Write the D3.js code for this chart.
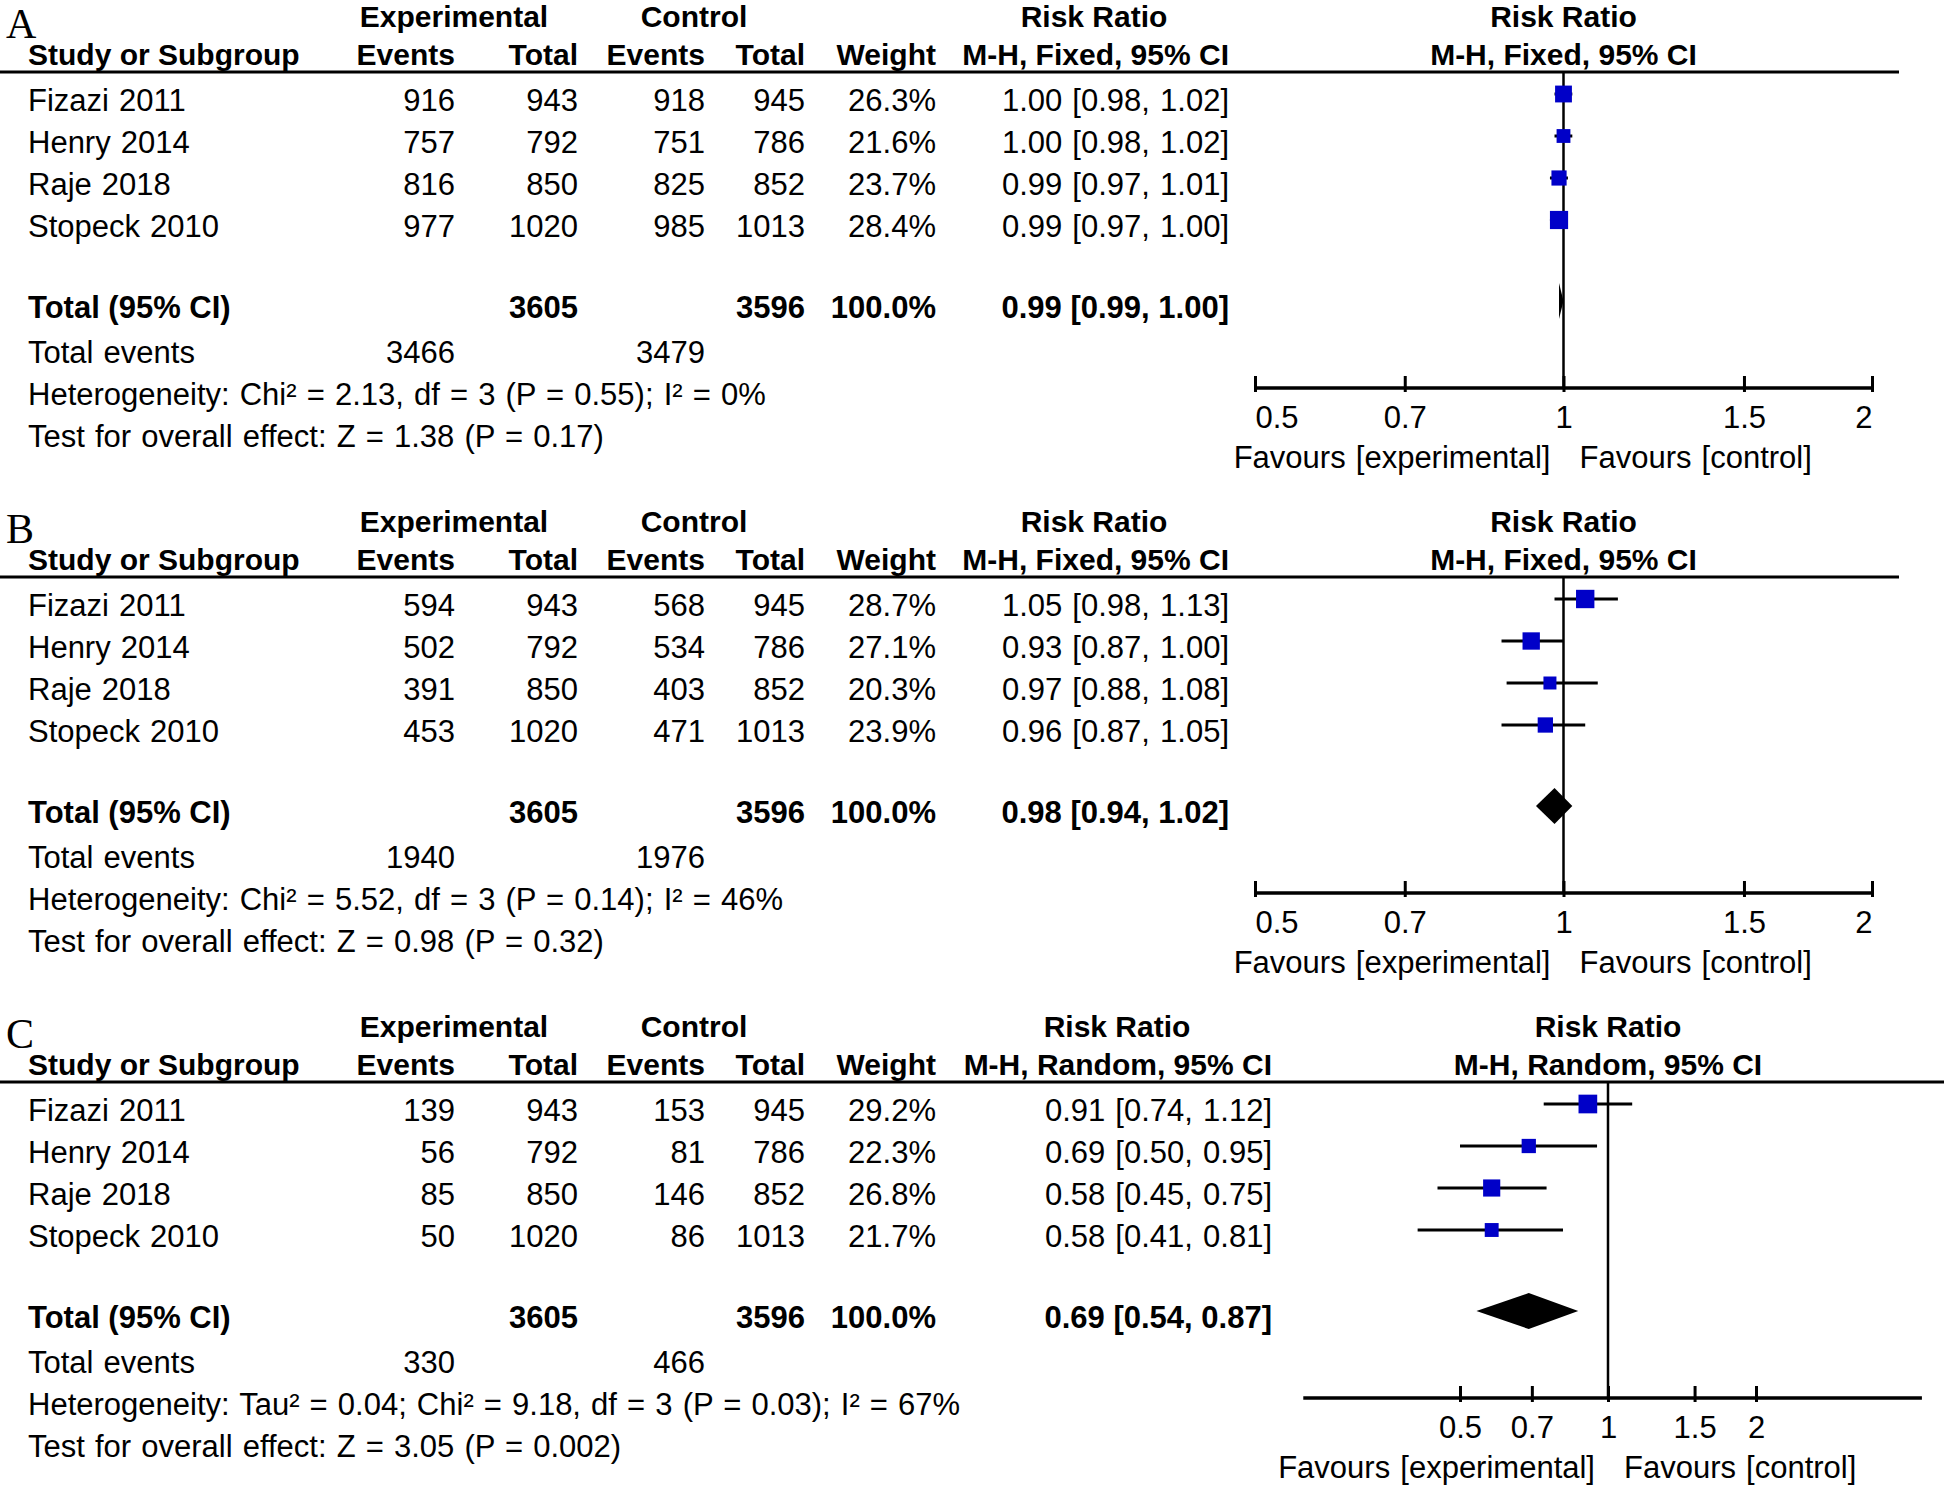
<!DOCTYPE html>
<html>
<head>
<meta charset="utf-8">
<script src="https://cdn.jsdelivr.net/npm/d3@7"></script>
<style>
  body { margin: 0; background: #fff; }
  svg text { font-family: "Liberation Sans", Arial, sans-serif; font-size: 31px; word-spacing: 1.5px; fill: #000; }
  svg text.b { font-size: 30px; font-weight: bold; word-spacing: 0; }
</style>
</head>
<body>
<div id="chart"></div>
<script>
// shared study info
var studies = ["Fizazi 2011", "Henry 2014", "Raje 2018", "Stopeck 2010"];
var expTotal = [943, 792, 850, 1020];
var ctrlTotal = [945, 786, 852, 1013];
var tickValues = [0.5, 0.7, 1, 1.5, 2];

// A - fixed
var aExpEvents = [916, 757, 816, 977];
var aCtrlEvents = [918, 751, 825, 985];
var aWeight = [26.3, 21.6, 23.7, 28.4];
var aRR = [1.00, 1.00, 0.99, 0.99];
var aLow = [0.98, 0.98, 0.97, 0.97];
var aHigh = [1.02, 1.02, 1.01, 1.00];
var aTotal = [0.99, 0.99, 1.00];
var aEvents = [3466, 3479];
var aHet = "Heterogeneity: Chi² = 2.13, df = 3 (P = 0.55); I² = 0%";
var aTest = "Test for overall effect: Z = 1.38 (P = 0.17)";

// B - fixed
var bExpEvents = [594, 502, 391, 453];
var bCtrlEvents = [568, 534, 403, 471];
var bWeight = [28.7, 27.1, 20.3, 23.9];
var bRR = [1.05, 0.93, 0.97, 0.96];
var bLow = [0.98, 0.87, 0.88, 0.87];
var bHigh = [1.13, 1.00, 1.08, 1.05];
var bTotal = [0.98, 0.94, 1.02];
var bEvents = [1940, 1976];
var bHet = "Heterogeneity: Chi² = 5.52, df = 3 (P = 0.14); I² = 46%";
var bTest = "Test for overall effect: Z = 0.98 (P = 0.32)";

// C - random
var cExpEvents = [139, 56, 85, 50];
var cCtrlEvents = [153, 81, 146, 86];
var cWeight = [29.2, 22.3, 26.8, 21.7];
var cRR = [0.91, 0.69, 0.58, 0.58];
var cLow = [0.74, 0.50, 0.45, 0.41];
var cHigh = [1.12, 0.95, 0.75, 0.81];
var cTotal = [0.69, 0.54, 0.87];
var cEvents = [330, 466];
var cHet = "Heterogeneity: Tau² = 0.04; Chi² = 9.18, df = 3 (P = 0.03); I² = 67%";
var cTest = "Test for overall effect: Z = 3.05 (P = 0.002)";

var width = 1946;
var height = 1487;
var fmt2 = d3.format(".2f");
var fmtW = d3.format(".1f");

var svg = d3.select("#chart").append("svg")
    .attr("width", width)
    .attr("height", height);

// row position (marker centre); text baseline sits a bit lower
var yRow = d3.scaleLinear().domain([0, 1]).range([94, 136]);
var textDy = 17;
var boxSize = d3.scaleLinear().domain([0, 10]).range([0, 6.4]);

drawPanel(0, "A", "M-H, Fixed, 95% CI",
    {exp: aExpEvents, ctrl: aCtrlEvents, w: aWeight, rr: aRR, lo: aLow, hi: aHigh,
     total: aTotal, events: aEvents, het: aHet, test: aTest},
    {rrRight: 1229, rrHead: 1094, range: [1255, 1872], extent: [0.5, 2], lineEnd: 1899, clampLabels: true});

drawPanel(505, "B", "M-H, Fixed, 95% CI",
    {exp: bExpEvents, ctrl: bCtrlEvents, w: bWeight, rr: bRR, lo: bLow, hi: bHigh,
     total: bTotal, events: bEvents, het: bHet, test: bTest},
    {rrRight: 1229, rrHead: 1094, range: [1255, 1872], extent: [0.5, 2], lineEnd: 1899, clampLabels: true});

drawPanel(1010, "C", "M-H, Random, 95% CI",
    {exp: cExpEvents, ctrl: cCtrlEvents, w: cWeight, rr: cRR, lo: cLow, hi: cHigh,
     total: cTotal, events: cEvents, het: cHet, test: cTest},
    {rrRight: 1272, rrHead: 1117, range: [1460, 1756], extent: [0.24, 4.35], lineEnd: 1944, clampLabels: false});


function drawPanel(top, letter, method, d, o){
    var g = svg.append("g").attr("transform", "translate(0," + top + ")");
    var x = d3.scaleLog().domain([0.5, 2]).range(o.range);
    var axisY = 388;

    g.append("text")
        .attr("x", 6)
        .attr("y", 38)
        .style("font-family", "'Liberation Serif', 'Times New Roman', serif")
        .style("font-size", "42px")
        .text(letter);

    // header rows
    var head1 = [
        {t: "Experimental", x: 454, a: "middle"},
        {t: "Control", x: 694, a: "middle"},
        {t: "Risk Ratio", x: o.rrHead, a: "middle"},
        {t: "Risk Ratio", x: x(1), a: "middle"}
    ];
    var head2 = [
        {t: "Study or Subgroup", x: 28, a: "start"},
        {t: "Events", x: 455, a: "end"},
        {t: "Total", x: 578, a: "end"},
        {t: "Events", x: 705, a: "end"},
        {t: "Total", x: 805, a: "end"},
        {t: "Weight", x: 936, a: "end"},
        {t: method, x: o.rrRight, a: "end"},
        {t: method, x: x(1), a: "middle"}
    ];
    g.selectAll(".h1").data(head1).enter().append("text")
        .attr("class", "b")
        .attr("x", function(h){ return h.x; })
        .attr("y", 27)
        .attr("text-anchor", function(h){ return h.a; })
        .text(function(h){ return h.t; });
    g.selectAll(".h2").data(head2).enter().append("text")
        .attr("class", "b")
        .attr("x", function(h){ return h.x; })
        .attr("y", 65)
        .attr("text-anchor", function(h){ return h.a; })
        .text(function(h){ return h.t; });

    g.append("line")
        .attr("x1", 0).attr("x2", o.lineEnd)
        .attr("y1", 72).attr("y2", 72)
        .attr("stroke", "#000").attr("stroke-width", 3);

    // vertical line of no effect
    g.append("line")
        .attr("x1", x(1)).attr("x2", x(1))
        .attr("y1", 72).attr("y2", axisY)
        .attr("stroke", "#000").attr("stroke-width", 2.5);

    // study rows
    var rows = studies.map(function(s, i){
        return {name: s, exp: d.exp[i], expN: expTotal[i], ctrl: d.ctrl[i], ctrlN: ctrlTotal[i],
                w: d.w[i], rr: d.rr[i], lo: d.lo[i], hi: d.hi[i], i: i};
    });
    var cols = [
        {x: 28, a: "start", v: function(r){ return r.name; }},
        {x: 455, a: "end", v: function(r){ return r.exp; }},
        {x: 578, a: "end", v: function(r){ return r.expN; }},
        {x: 705, a: "end", v: function(r){ return r.ctrl; }},
        {x: 805, a: "end", v: function(r){ return r.ctrlN; }},
        {x: 936, a: "end", v: function(r){ return fmtW(r.w) + "%"; }},
        {x: o.rrRight, a: "end", v: function(r){ return fmt2(r.rr) + " [" + fmt2(r.lo) + ", " + fmt2(r.hi) + "]"; }}
    ];
    cols.forEach(function(c){
        g.selectAll(null).data(rows).enter().append("text")
            .attr("x", c.x)
            .attr("y", function(r){ return yRow(r.i) + textDy; })
            .attr("text-anchor", c.a)
            .text(c.v);
    });

    // CI lines + boxes
    g.selectAll(".ci").data(rows).enter().append("line")
        .attr("x1", function(r){ return x(r.lo); })
        .attr("x2", function(r){ return x(r.hi); })
        .attr("y1", function(r){ return yRow(r.i); })
        .attr("y2", function(r){ return yRow(r.i); })
        .attr("stroke", "#000").attr("stroke-width", 3);
    g.selectAll(".box").data(rows).enter().append("rect")
        .attr("x", function(r){ return x(r.rr) - boxSize(r.w) / 2; })
        .attr("y", function(r){ return yRow(r.i) - boxSize(r.w) / 2; })
        .attr("width", function(r){ return boxSize(r.w); })
        .attr("height", function(r){ return boxSize(r.w); })
        .attr("fill", "#0000c8");

    // total row
    var ty = yRow(4.93);
    var totalTexts = [
        {t: "Total (95% CI)", x: 28, a: "start"},
        {t: "3605", x: 578, a: "end"},
        {t: "3596", x: 805, a: "end"},
        {t: "100.0%", x: 936, a: "end"},
        {t: fmt2(d.total[0]) + " [" + fmt2(d.total[1]) + ", " + fmt2(d.total[2]) + "]", x: o.rrRight, a: "end"}
    ];
    g.selectAll(".tot").data(totalTexts).enter().append("text")
        .attr("class", "b")
        .attr("x", function(t){ return t.x; })
        .attr("y", ty + textDy)
        .attr("text-anchor", function(t){ return t.a; })
        .style("font-size", "31px")
        .text(function(t){ return t.t; });

    var dh = 18;
    g.append("path")
        .attr("d", "M" + x(d.total[1]) + "," + ty +
                   "L" + x(d.total[0]) + "," + (ty - dh) +
                   "L" + x(d.total[2]) + "," + ty +
                   "L" + x(d.total[0]) + "," + (ty + dh) + "Z")
        .attr("fill", "#000");

    g.append("text").attr("x", 28).attr("y", yRow(6) + textDy).text("Total events");
    g.append("text").attr("x", 455).attr("y", yRow(6) + textDy).attr("text-anchor", "end").text(d.events[0]);
    g.append("text").attr("x", 705).attr("y", yRow(6) + textDy).attr("text-anchor", "end").text(d.events[1]);
    g.append("text").attr("x", 28).attr("y", yRow(7) + textDy).text(d.het);
    g.append("text").attr("x", 28).attr("y", yRow(8) + textDy).text(d.test);

    // axis
    var ax = g.append("g")
        .attr("transform", "translate(0," + axisY + ")")
        .call(d3.axisBottom(x)
            .tickValues(tickValues)
            .tickFormat(d3.format(""))
            .tickSize(-11)
            .tickPadding(18));
    ax.select(".domain").remove();
    ax.selectAll(".tick line").attr("stroke", "#000").attr("stroke-width", 3).attr("y2", -12).attr("y1", 4);
    ax.selectAll(".tick text")
        .attr("fill", "#000")
        .style("font-size", "31px")
        .style("font-family", "'Liberation Sans', Arial, sans-serif")
        .attr("text-anchor", function(v, i){
            if (!o.clampLabels) return "middle";
            if (i == 0) return "start";
            if (i == tickValues.length - 1) return "end";
            return "middle";
        });
    g.append("line")
        .attr("x1", x(o.extent[0])).attr("x2", x(o.extent[1]))
        .attr("y1", axisY).attr("y2", axisY)
        .attr("stroke", "#000").attr("stroke-width", 3.5);

    g.append("text")
        .attr("x", x(1) - 13)
        .attr("y", 468)
        .attr("text-anchor", "end")
        .text("Favours [experimental]");
    g.append("text")
        .attr("x", x(1) + 16)
        .attr("y", 468)
        .text("Favours [control]");
}
</script>
</body>
</html>
